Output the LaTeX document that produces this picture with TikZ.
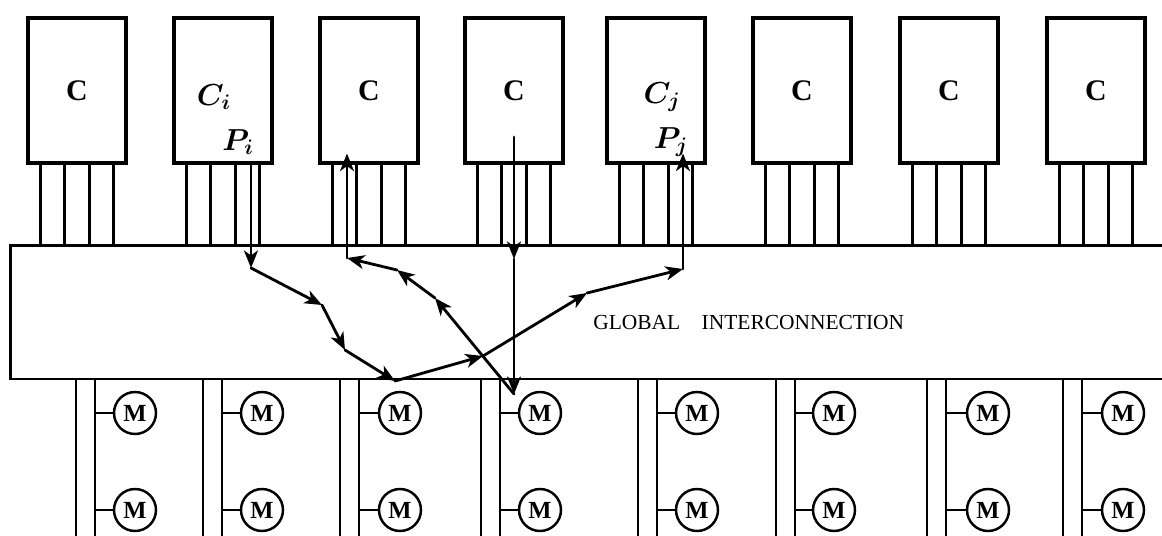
\documentclass[tikz,border=0pt]{standalone}
\usepackage{fontspec}
\setmainfont{Liberation Serif}
\usetikzlibrary{arrows.meta,calc,positioning}
\tikzset{
  cpu/.style={rectangle,draw,line width=1.8pt,minimum width=1.96cm,minimum height=2.9cm,inner sep=0pt,font=\fontsize{17}{20}\selectfont\bfseries},
  tag/.style={inner sep=0pt,font=\fontsize{17}{20}\selectfont\boldmath},
  pin/.style={draw,line width=1.3pt},
  bus/.style={draw,line width=1.3pt},
  mem/.style={circle,draw,line width=1.4pt,minimum size=0.84cm,inner sep=0pt,font=\fontsize{14}{16}\selectfont\bfseries},
  stub/.style={draw,line width=1.3pt},
  route/.style={-{Stealth[length=3.5mm,width=2.8mm,inset=1mm]},draw,line width=1.6pt,line cap=round},
  netbox/.style={rectangle,draw,line width=1.7pt,minimum width=23.6cm,minimum height=2.68cm,inner sep=0pt},
  title/.style={anchor=west,inner sep=0pt,font=\fontsize{12.2}{14}\selectfont},
}
\begin{document}
\begin{tikzpicture}[x=0.02cm,y=-0.02cm]
  \useasboundingbox (0,0) rectangle (1162,535);
  \clip (0,0) rectangle (1162,535);
  \node[netbox] (band) at (600,312) {};
  \node[title] (gi) at (593,322) {GLOBAL\quad INTERCONNECTION};
  \node[cpu] (c1) at (77,90.5) {C};
  \node[cpu] (c2) at (223,90.5) {};
  \node[cpu] (c3) at (369,90.5) {C};
  \node[cpu] (c4) at (514,90.5) {C};
  \node[cpu] (c5) at (656,90.5) {};
  \node[cpu] (c6) at (802,90.5) {C};
  \node[cpu] (c7) at (949,90.5) {C};
  \node[cpu] (c8) at (1096,90.5) {C};
  \node[tag] (lci) at (214,97) {$C_i$};
  \node[tag] (lpi) at (238,142) {$P_i$};
  \node[tag] (lcj) at (662,97) {$C_j$};
  \node[tag] (lpj) at (671,142) {$P_j$};
  \foreach \k in {1,...,8}{
    \foreach \o in {14,38,63,87}{
      \coordinate (p) at ($(c\k.south west)+(\o,0)$);
      \draw[pin] (p) -- (p |- band.north);
    }
  }
  \foreach \l/\c [count=\k] in {76/135,203/262,340/400,481/540,638/697,776/834,927/988,1063/1123}{
    \coordinate (l\k) at (\l,540);
    \coordinate (r\k) at (\l+19,540);
    \draw[bus] (l\k |- band.south) -- (l\k);
    \draw[bus] (r\k |- band.south) -- (r\k);
    \node[mem] (mu\k) at (\c,413) {M};
    \node[mem] (ml\k) at (\c,510) {M};
    \draw[stub] (mu\k.west -| r\k) -- (mu\k.west);
    \draw[stub] (ml\k.west -| r\k) -- (ml\k.west);
  }
  \coordinate (a1) at (251,268);
  \coordinate (a2) at (322,305);
  \coordinate (a3) at (345,350);
  \coordinate (a4) at (395,381);
  \coordinate (a5) at (483,356);
  \coordinate (a6) at (587,293);
  \coordinate (a7) at (683,269);
  \coordinate (v0) at (514,137);
  \coordinate (v1) at (514,259);
  \coordinate (b0) at (514,394);
  \coordinate (b1) at (435,298);
  \coordinate (b2) at (397,270);
  \coordinate (b3) at (347,258);
  \draw[route] (a1 |- c2.south) -- (a1);
  \draw[route] (a1) -- (a2);
  \draw[route] (a2) -- (a3);
  \draw[route] (a3) -- (a4);
  \draw[route] (a4) -- (a5);
  \draw[route] (a5) -- (a6);
  \draw[route] (a6) -- (a7);
  \draw[route] (a7) -- ($(a7 |- c5.south)+(0,-11)$);
  \draw[route] (v0) -- (v1);
  \draw[route] (v1) -- (b0);
  \draw[route] (b0) -- (b1);
  \draw[route] (b1) -- (b2);
  \draw[route] (b2) -- (b3);
  \draw[route] (b3) -- ($(b3 |- c3.south)+(0,-11)$);
\end{tikzpicture}
\end{document}
